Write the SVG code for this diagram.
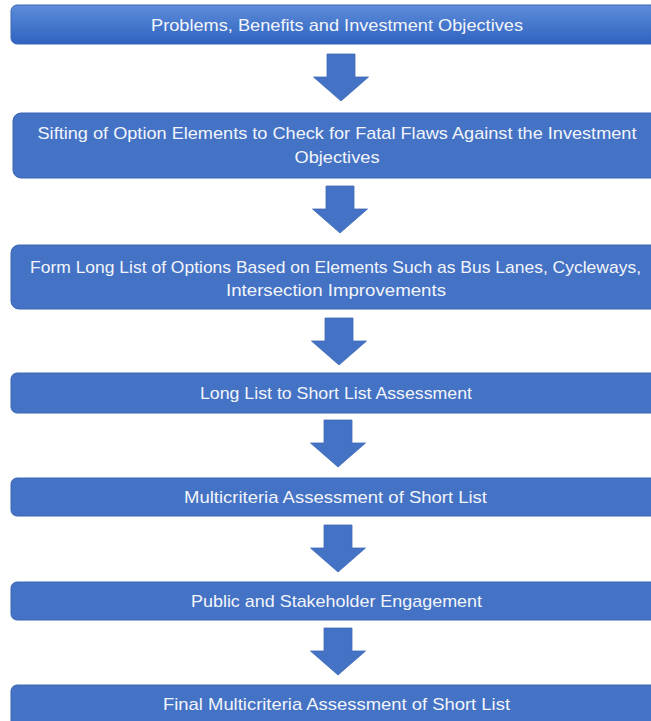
<svg xmlns="http://www.w3.org/2000/svg" xmlns:xlink="http://www.w3.org/1999/xlink" width="651" height="721" viewBox="0 0 651 721">
  <style>
    .box { fill: #4472c4; stroke: #3d67b3; stroke-width: 1; }
    .lbl { font-family: "Liberation Sans", Arial, sans-serif; font-size: 17px; fill: #f2f5fb; text-anchor: middle; }
    .arrow { fill: #4472c4; stroke: #3f6ab8; stroke-width: 0.8; }
  </style>
  <defs>
    <linearGradient id="topFill" x1="0" y1="0" x2="0" y2="1">
      <stop offset="0" stop-color="#5d8cd9"/>
      <stop offset="1" stop-color="#2f63c0"/>
    </linearGradient>
    <!-- block arrow pointing down, origin at top centre of the shaft -->
    <path id="downArrow" d="M-14 0 H14 V23 H27.5 L0 47 L-27.5 23 H-14 Z"/>
  </defs>
  <rect width="651" height="721" fill="#ffffff"/>

  <g id="connectors">
    <use xlink:href="#downArrow" class="arrow" transform="translate(341,54)"/>
    <use xlink:href="#downArrow" class="arrow" transform="translate(340,186)"/>
    <use xlink:href="#downArrow" class="arrow" transform="translate(339,318)"/>
    <use xlink:href="#downArrow" class="arrow" transform="translate(338,420)"/>
    <use xlink:href="#downArrow" class="arrow" transform="translate(338,525)"/>
    <use xlink:href="#downArrow" class="arrow" transform="translate(338,628)"/>
  </g>

  <g id="objectives">
    <rect x="11" y="5" width="660" height="39" rx="6" fill="url(#topFill)" stroke="#3d67b3"/>
    <text class="lbl" x="337" y="31" textLength="372" lengthAdjust="spacingAndGlyphs">Problems, Benefits and Investment Objectives</text>
  </g>

  <g id="sifting">
    <rect class="box" x="13" y="113" width="660" height="65" rx="8"/>
    <text class="lbl" x="337" y="139" textLength="599" lengthAdjust="spacingAndGlyphs">Sifting of Option Elements to Check for Fatal Flaws Against the Investment</text>
    <text class="lbl" x="337" y="163" textLength="85" lengthAdjust="spacingAndGlyphs">Objectives</text>
  </g>

  <g id="long-list">
    <rect class="box" x="11" y="245" width="660" height="64" rx="8"/>
    <text class="lbl" x="335.5" y="272.5" textLength="611" lengthAdjust="spacingAndGlyphs">Form Long List of Options Based on Elements Such as Bus Lanes, Cycleways,</text>
    <text class="lbl" x="336" y="296" textLength="220" lengthAdjust="spacingAndGlyphs">Intersection Improvements</text>
  </g>

  <g id="short-list">
    <rect class="box" x="11" y="373" width="660" height="40" rx="6"/>
    <text class="lbl" x="336" y="399" textLength="272" lengthAdjust="spacingAndGlyphs">Long List to Short List Assessment</text>
  </g>

  <g id="multicriteria">
    <rect class="box" x="11" y="478" width="660" height="38" rx="6"/>
    <text class="lbl" x="335.5" y="503" textLength="303" lengthAdjust="spacingAndGlyphs">Multicriteria Assessment of Short List</text>
  </g>

  <g id="engagement">
    <rect class="box" x="11" y="582" width="660" height="38" rx="6"/>
    <text class="lbl" x="336.5" y="607" textLength="291" lengthAdjust="spacingAndGlyphs">Public and Stakeholder Engagement</text>
  </g>

  <g id="final-assessment">
    <rect class="box" x="11" y="685" width="660" height="42" rx="6"/>
    <text class="lbl" x="336.5" y="710" textLength="347" lengthAdjust="spacingAndGlyphs">Final Multicriteria Assessment of Short List</text>
  </g>
</svg>
